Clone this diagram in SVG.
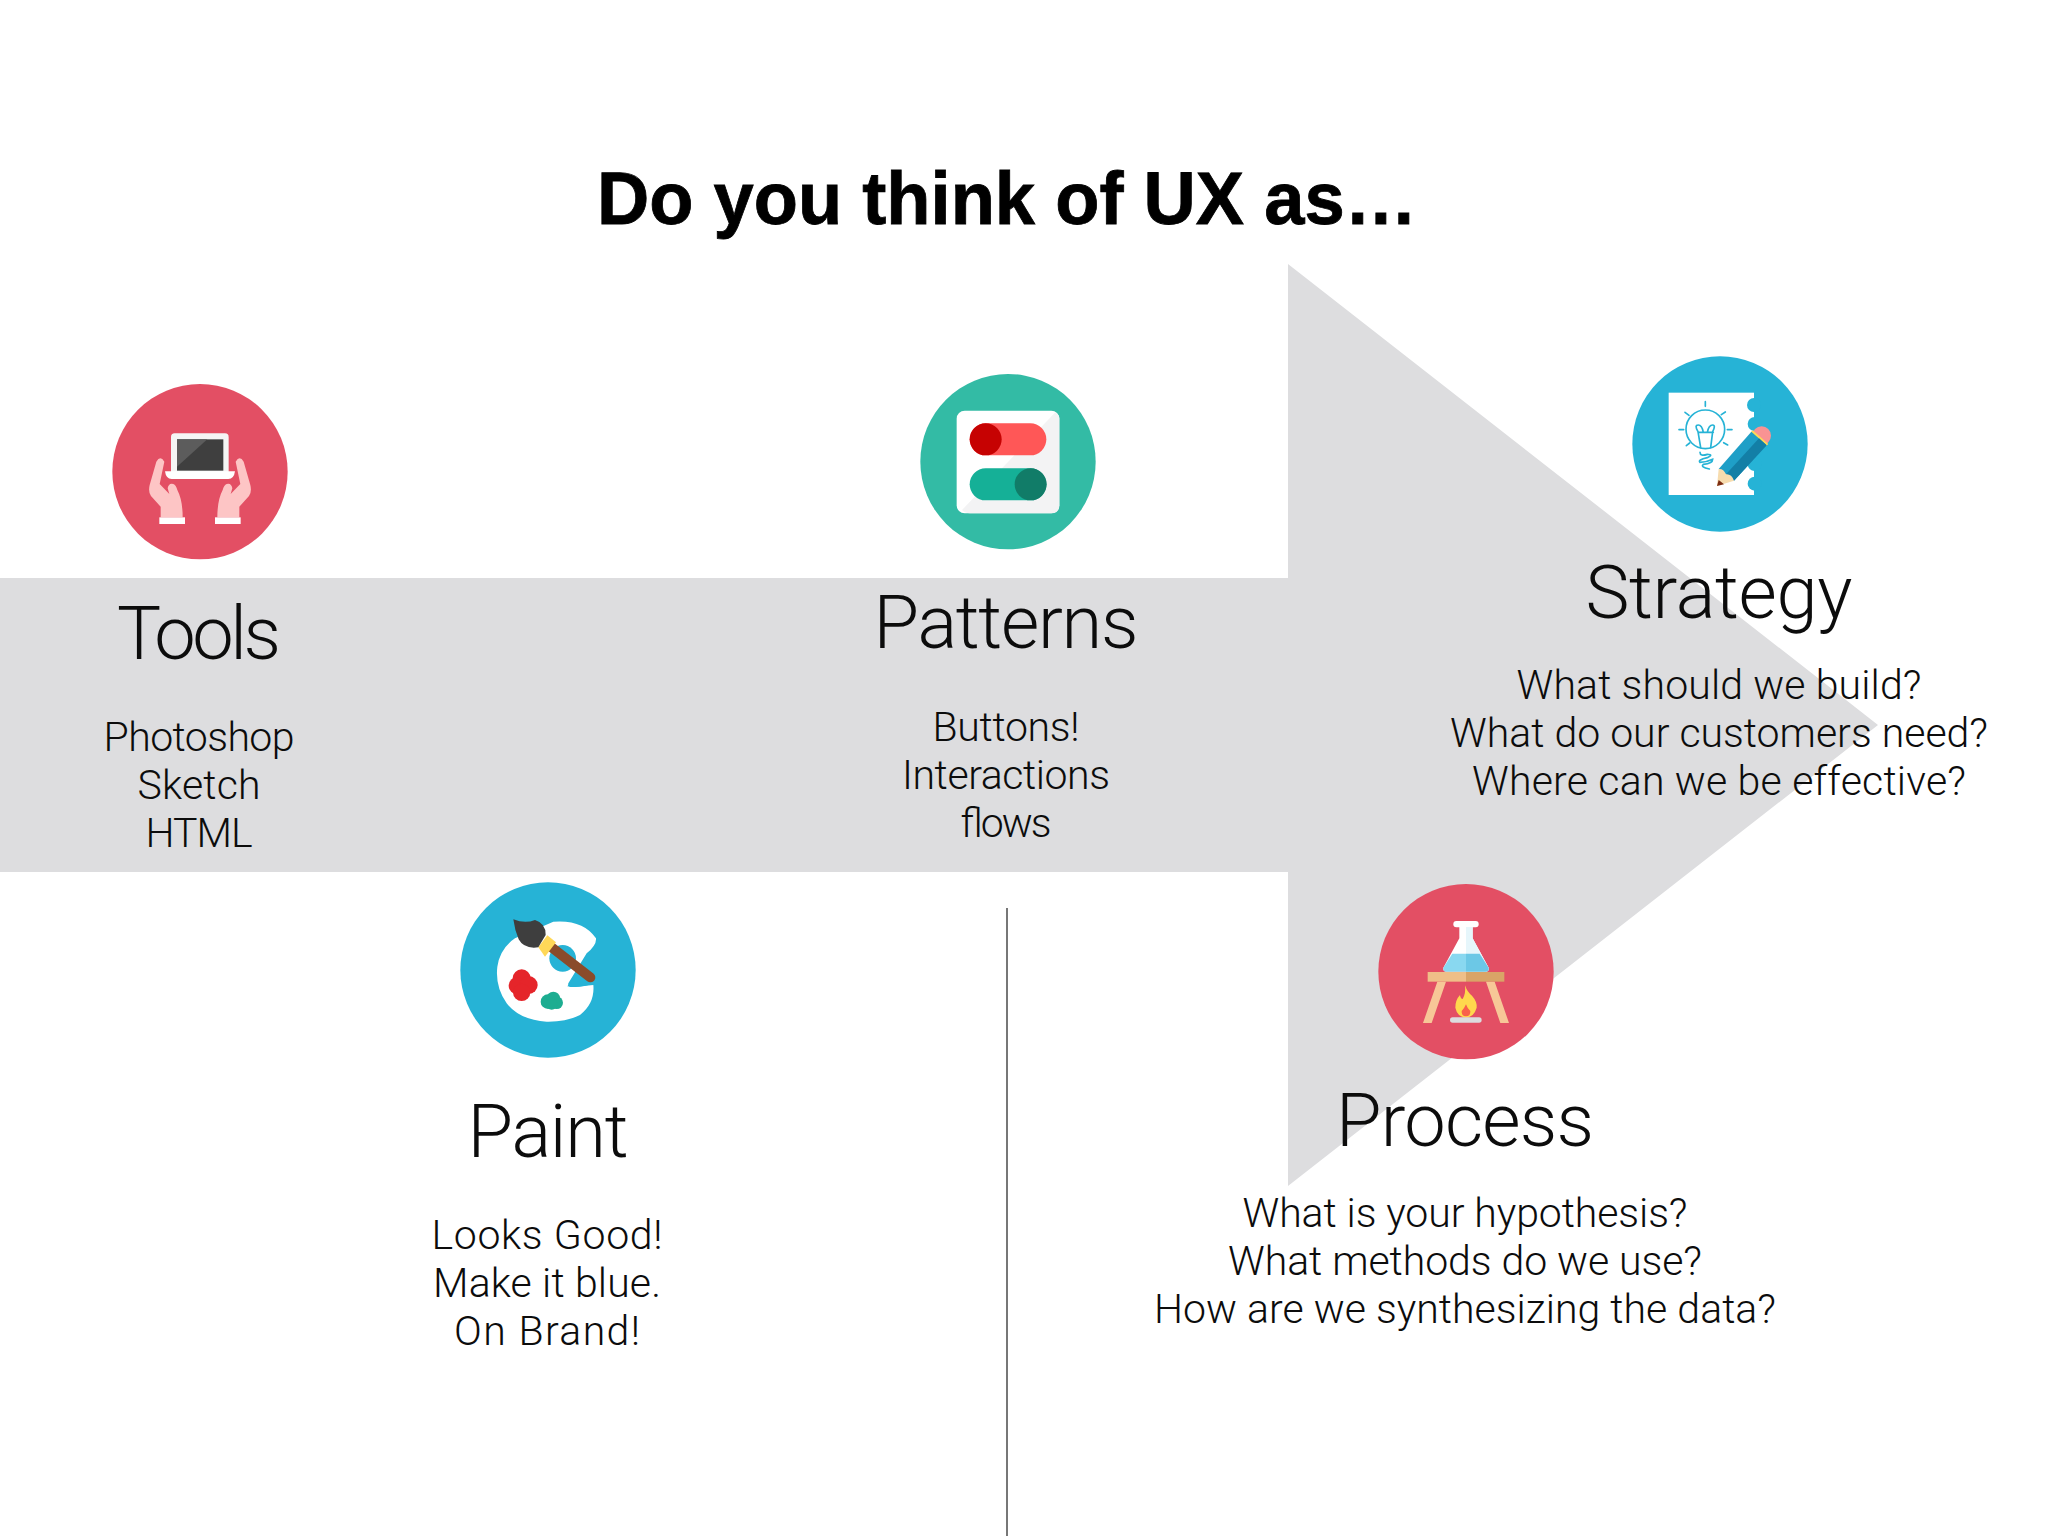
<svg xmlns="http://www.w3.org/2000/svg" xmlns:xlink="http://www.w3.org/1999/xlink" width="2048" height="1536" viewBox="0 0 2048 1536">
<style>
text{font-family:Roboto,"Liberation Sans",sans-serif;font-weight:300;fill:#0c0c0c;text-anchor:middle}
.h{font-size:74px}
.b{font-size:41px}
.t{font-family:"Liberation Sans",Arial,sans-serif;font-weight:700;font-size:74px;fill:#000;stroke:#000;stroke-width:.8}
.red{fill:#e34f64}.blue{fill:#26b3d6}.teal{fill:#33bba5}
.bs{fill:none;stroke:#26b3d6;stroke-width:5;stroke-linecap:round}
</style>
<rect width="2048" height="1536" fill="#fff"/>
<path id="arrow" d="M0 578H1288V264L1878 725L1288 1186V872H0Z" fill="#dddddf"/>
<g id="connectors"><line x1="1007" y1="908" x2="1007" y2="1536" stroke="#555" stroke-width="1.6"/></g>
<text class="t" x="1007" y="224" textLength="820" lengthAdjust="spacingAndGlyphs">Do you think of UX as…</text>

<g id="tools">
<g transform="translate(90 360) scale(.33333)">
<circle class="red" cx="330" cy="335" r="263"/>
<rect x="243" y="220" width="173" height="125" rx="11" fill="#f5f5f5"/>
<rect x="261" y="238" width="139" height="94" fill="#3f3f3f"/>
<path d="M261 238H352L261 320Z" fill="#5c5c5c"/>
<path d="M225 334H435Q432 357 415 357H245Q228 357 225 334Z" fill="#fff"/>
<g id="hand">
<path d="M199 305Q211 285 223 305L209 372L238 402L233 385Q236 368 250 372Q258 375 262 390Q278 420 278 472H212V440L183 408Q174 395 179 375Z" fill="#fdc5c5"/>
<rect x="208" y="472" width="77" height="20" fill="#fff"/>
</g>
<use xlink:href="#hand" href="#hand" transform="translate(660 0) scale(-1 1)"/>
</g>
<text class="h" x="199" y="659" textLength="164">Tools</text>
<text class="b" x="199" y="751" textLength="191">Photoshop</text>
<text class="b" x="199" y="799" textLength="123">Sketch</text>
<text class="b" x="199" y="847" textLength="107">HTML</text>
</g>

<g id="patterns">
<g transform="translate(900 360) scale(.33333)">
<circle class="teal" cx="324" cy="305" r="263"/>
<rect x="170" y="152" width="308" height="308" rx="24" fill="#fff"/>
<path d="M466 157Q478 165 478 176V436Q478 460 454 460H210Q196 460 186 450Z" fill="#f3f3f4"/>
<rect x="209" y="190" width="230" height="96" rx="48" fill="#ff5757"/>
<circle cx="257" cy="238" r="48" fill="#c60202"/>
<rect x="209" y="325" width="230" height="96" rx="48" fill="#15b097"/>
<circle cx="392" cy="373" r="48" fill="#117c68"/>
</g>
<text class="h" x="1006" y="648" textLength="265">Patterns</text>
<text class="b" x="1006" y="741" textLength="147">Buttons!</text>
<text class="b" x="1006" y="789" textLength="208">Interactions</text>
<text class="b" x="1005" y="837" textLength="91">flows</text>
</g>

<g id="strategy">
<g transform="translate(1620 345) scale(.33333)">
<circle class="blue" cx="300" cy="297" r="263"/>
<rect x="146" y="143" width="256" height="307" fill="#fff"/>
<circle class="blue" cx="402" cy="180" r="21"/>
<circle class="blue" cx="404" cy="237" r="21"/>
<circle class="blue" cx="404" cy="357" r="21"/>
<circle class="blue" cx="404" cy="416" r="21"/>
<g class="bs">
<circle cx="256" cy="253" r="58"/>
<path d="M256 170V184M195 202L207 211M316 201L304 209M177 254H191M322 254H336M199 302L209 294M311 293L323 300"/>
<path d="M242 308L234 260Q222 240 235 240Q246 240 250 262H262Q266 240 278 240Q288 240 278 260L272 308M234 262H280"/>
<path d="M240 322Q240 335 262 328Q282 328 262 338Q232 345 240 352Q260 352 278 343Q278 356 250 358Q240 366 268 372"/>
</g>
<circle cx="425" cy="272" r="28" fill="#f99393"/>
<path d="M398 256L445 297L439 303L392 262Z" fill="#ffd858"/>
<path d="M394 260L440 301L342 407L296 372Z" fill="#1f9fc7"/>
<path d="M417 280L440 301L342 407L318 388Z" fill="#137fa6"/>
<path d="M296 372Q310 370 318 388Q334 386 342 407L291 423Z" fill="#f7dcae"/>
<path d="M296 405L312 418L291 423Z" fill="#7c2d12"/>
</g>
<text class="h" x="1719" y="618" textLength="267">Strategy</text>
<text class="b" x="1719" y="699" textLength="405">What should we build?</text>
<text class="b" x="1719" y="747" textLength="538">What do our customers need?</text>
<text class="b" x="1719" y="795" textLength="494">Where can we be effective?</text>
</g>

<g id="paint">
<g transform="translate(440 870) scale(.33333)">
<circle class="blue" cx="324" cy="300" r="263"/>
<path d="M340 155Q430 148 468 205Q470 225 440 250L385 340Q382 352 400 351L460 345Q465 400 420 435Q380 456 320 455Q240 450 200 400Q165 350 172 290Q180 235 225 205Z" fill="#fff"/>
<circle class="blue" cx="368" cy="265" r="40"/>
<path d="M382 349L430 290L462 340Q420 356 382 349Z" class="blue"/>
<line x1="335" y1="232" x2="451" y2="322" stroke="#8a4b2a" stroke-width="30" stroke-linecap="round"/>
<path d="M322 196L348 217L315 260L295 232Z" fill="#ffd858"/>
<path d="M220 148Q255 162 285 150Q318 160 317 195L295 232Q252 238 236 208Q224 180 220 148Z" fill="#3e3e3e"/>
<g fill="#e5252a"><circle cx="245" cy="325" r="27"/><circle cx="232" cy="347" r="26"/><circle cx="266" cy="345" r="27"/><circle cx="245" cy="367" r="26"/></g>
<g fill="#1dad91"><circle cx="324" cy="395" r="22"/><circle cx="340" cy="385" r="20"/><circle cx="350" cy="398" r="19"/><circle cx="335" cy="402" r="17"/></g>
</g>
<text class="h" x="548" y="1157" textLength="161">Paint</text>
<text class="b" x="547" y="1249" textLength="231">Looks Good!</text>
<text class="b" x="547" y="1297" textLength="228">Make it blue.</text>
<text class="b" x="547" y="1345" textLength="186">On Brand!</text>
</g>

<g id="process">
<g transform="translate(1360 875) scale(.33333)">
<circle class="red" cx="318" cy="290" r="263"/>
<rect x="280" y="138" width="76" height="19" rx="9" fill="#fff"/>
<path d="M298 156H338V190L386 278Q388 290 376 290H260Q248 290 250 278L298 190Z" fill="#fff"/>
<path d="M318 156H338V190L386 278Q388 290 376 290H318Z" fill="#e6f6fb"/>
<path d="M277 236H318V290H260Q248 290 250 278Z" fill="#89d8f0"/>
<path d="M318 236H359L386 278Q388 290 376 290H318Z" fill="#6cc8e6"/>
<rect x="203" y="291" width="115" height="29" fill="#efbf88"/>
<rect x="318" y="291" width="115" height="29" fill="#d9a467"/>
<path d="M232 320H258L215 444H189ZM378 320H404L447 444H421Z" fill="#f7c797"/>
<path d="M315 331Q322 352 336 362Q352 380 350 398Q342 426 318 428Q292 426 286 398Q286 375 300 360Q302 372 308 372Q318 355 315 331Z" fill="#ffd84d"/>
<path d="M318 388Q322 400 331 408Q332 424 318 424Q304 424 305 408Q312 402 318 388Z" fill="#f9604a"/>
<rect x="270" y="427" width="95" height="16" rx="8" fill="#dcdcde"/>
</g>
<text class="h" x="1465" y="1146" textLength="258">Process</text>
<text class="b" x="1465" y="1227" textLength="445">What is your hypothesis?</text>
<text class="b" x="1465" y="1275" textLength="474">What methods do we use?</text>
<text class="b" x="1465" y="1323" textLength="622">How are we synthesizing the data?</text>
</g>
</svg>
